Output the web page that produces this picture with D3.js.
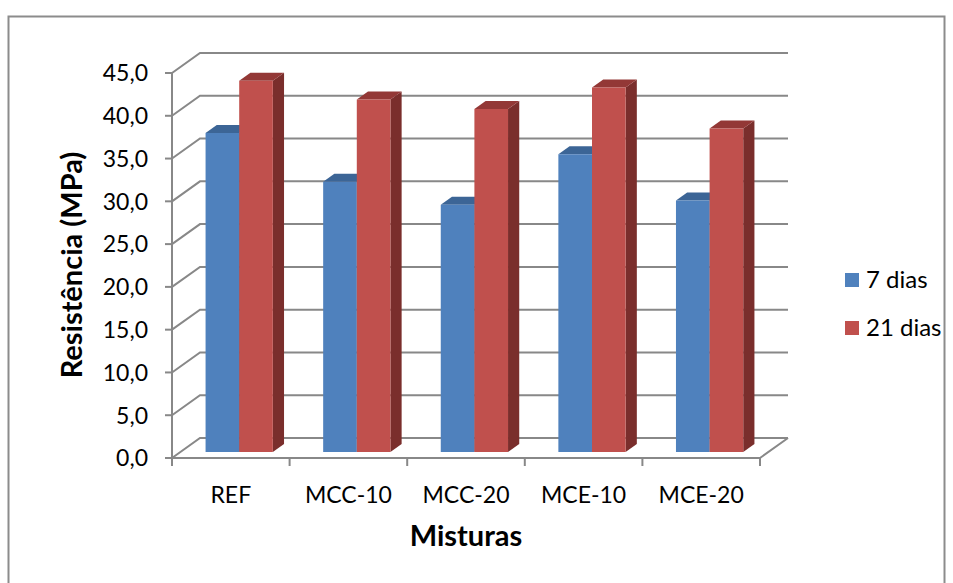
<!DOCTYPE html>
<html>
<head>
<meta charset="utf-8">
<script src="https://cdn.jsdelivr.net/npm/d3@7"></script>
<style>
  html, body { margin: 0; padding: 0; background: #fff; }
  svg { display: block; font-family: Lato, "Open Sans", sans-serif; }
</style>
</head>
<body>
<svg id="chart" width="953" height="583"></svg>
<script>
// Compressive strength of the mixtures at 7 and 21 days
const categories = ["REF", "MCC-10", "MCC-20", "MCE-10", "MCE-20"];
const seriesNames = ["7 dias", "21 dias"];
const dias7 = [37.3, 31.6, 28.9, 34.8, 29.4];
const dias21 = [43.4, 41.2, 40.1, 42.6, 37.8];
const yTicks = [0, 5, 10, 15, 20, 25, 30, 35, 40, 45];

const seriesValues = [dias7, dias21];
const colors = [
  { front: "#4F81BD", top: "#3C6596", side: "#2F5380" },
  { front: "#C0504D", top: "#933836", side: "#7A2E2C" }
];

const svg = d3.select("#chart");

// Front plane of the 3D box and the depth offset of its back wall
const x0 = 172, x1 = 760, yBottom = 458, yTop = 73;
const depthX = 28, depthY = -20;
const barD0 = 0.3, barD1 = 0.7; // bars sit in the middle of the depth

const x = d3.scaleBand().domain(categories).range([x0, x1]).paddingInner(0.428).paddingOuter(0.214);
const xs = d3.scaleBand().domain(d3.range(seriesNames.length)).range([0, x.bandwidth()]);
const y = d3.scaleLinear().domain([0, 45]).range([yBottom, yTop]);

const P = (px, py, d) => [px + d * depthX, py + d * depthY];
const line = pts => "M" + pts.map(p => p.join(",")).join("L");

// outer frame
svg.append("rect").attr("x", 8.5).attr("y", 16.5).attr("width", 936).attr("height", 600)
  .attr("fill", "none").attr("stroke", "#8C8C8C").attr("stroke-width", 2);

const grid = svg.append("g").attr("stroke", "#888").attr("stroke-width", 2).attr("fill", "none");

// back-wall gridlines with the diagonal on the side wall
yTicks.forEach(v => {
  const yy = y(v);
  grid.append("path").attr("d", line([[x0, yy], P(x0, yy, 1), P(x1, yy, 1)]));
});
// floor: front edge and right side
grid.append("path").attr("d", line([[x0, yBottom], [x1, yBottom], P(x1, yBottom, 1)]));
// vertical axis line
grid.append("path").attr("d", line([[x0, yTop], [x0, yBottom]]));

// y ticks
yTicks.forEach(v => {
  grid.append("path").attr("d", line([[x0 - 7, y(v)], [x0, y(v)]]));
});
// category ticks
const catEdges = categories.map(c => x(c) - x.step() * x.paddingInner() / 2).concat([x1]);
catEdges.forEach(cx => {
  grid.append("path").attr("d", line([[cx, yBottom], [cx, yBottom + 8]]));
});

// bars
const bars = svg.append("g");
categories.forEach((c, i) => {
  seriesValues.forEach((vals, s) => {
    const bx0 = x(c) + xs(s), bx1 = bx0 + xs.bandwidth();
    const yb = y(0), yt = y(vals[i]);
    const col = colors[s];
    const fl = P(bx0, yb, barD0), fr = P(bx1, yb, barD0);
    const tl = P(bx0, yt, barD0), tr = P(bx1, yt, barD0);
    const tlb = P(bx0, yt, barD1), trb = P(bx1, yt, barD1), brb = P(bx1, yb, barD1);
    bars.append("path").attr("d", line([fr, brb, trb, tr]) + "Z").attr("fill", col.side);
    bars.append("path").attr("d", line([tl, tr, trb, tlb]) + "Z").attr("fill", col.top);
    bars.append("path").attr("d", line([fl, fr, tr, tl]) + "Z").attr("fill", col.front);
  });
});

// y tick labels
svg.append("g").selectAll("text").data(yTicks).join("text")
  .attr("x", 148).attr("y", d => y(d)).attr("dy", "0.36em")
  .attr("text-anchor", "end").attr("font-size", 23).attr("fill", "#000")
  .text(d => d3.format(".1f")(d).replace(".", ","));

// category labels
svg.append("g").selectAll("text").data(categories).join("text")
  .attr("x", d => x(d) + x.bandwidth() / 2).attr("y", 503)
  .attr("text-anchor", "middle").attr("font-size", 23).attr("fill", "#000")
  .text(d => d);

// axis titles
svg.append("text").attr("x", 466).attr("y", 546).attr("text-anchor", "middle")
  .attr("font-size", 29).attr("font-weight", "bold").attr("fill", "#000").text("Misturas");
svg.append("text").attr("transform", "translate(82,265) rotate(-90)").attr("text-anchor", "middle")
  .attr("font-size", 29).attr("font-weight", "bold").attr("fill", "#000").text("Resistência (MPa)");

// legend
const legend = svg.append("g");
seriesNames.forEach((n, s) => {
  const ly = 273 + s * 48;
  legend.append("rect").attr("x", 845).attr("y", ly).attr("width", 14).attr("height", 14).attr("fill", colors[s].front);
  legend.append("text").attr("x", 866).attr("y", ly + 15).attr("font-size", 24).attr("fill", "#000").text(n);
});
</script>
</body>
</html>
